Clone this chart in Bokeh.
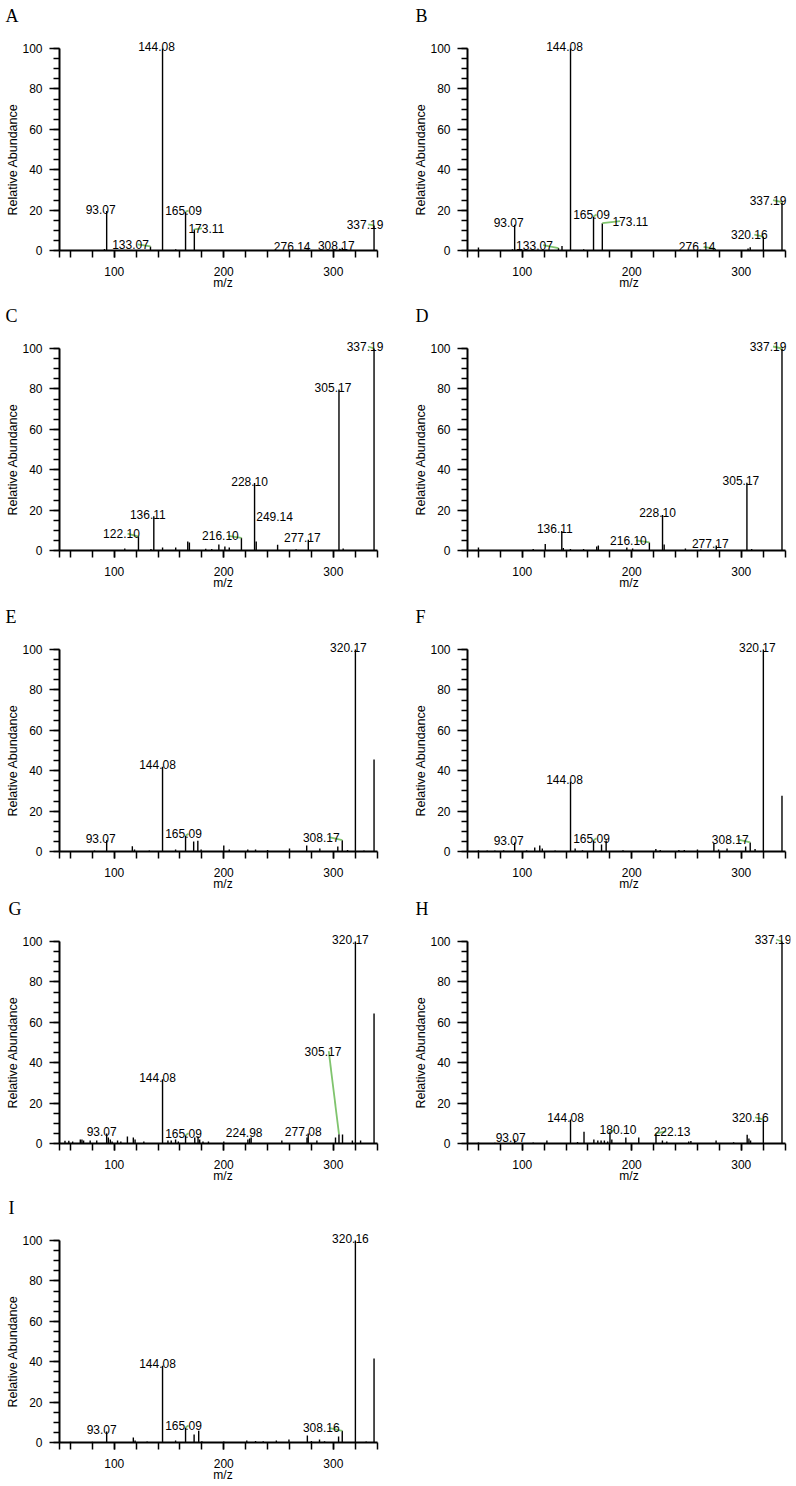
from bokeh.plotting import figure
from bokeh.layouts import gridplot
from bokeh.models import Range1d, FixedTicker, ColumnDataSource, Title
from bokeh.core.properties import value
from bokeh.embed import file_html
from bokeh.resources import INLINE

# ---------------- data (m/z, relative abundance %) ----------------
A_mz = [91.05, 93.07, 133.07, 144.08, 156.10, 165.09, 173.11, 247.30, 276.14, 306.20, 308.17, 337.19]
A_ab = [0.8, 19.5, 2.0, 100.0, 0.6, 19.2, 10.5, 0.6, 0.5, 0.8, 1.3, 12.4]
A_lab = [93.07, 133.07, 144.08, 165.09, 173.11, 276.14, 308.17, 337.19]

B_mz = [60.00, 91.05, 93.07, 133.07, 136.30, 144.08, 156.10, 165.09, 173.11, 276.14, 306.20, 308.17, 320.16, 337.19]
B_ab = [1.5, 0.6, 12.8, 1.2, 2.2, 100.0, 0.6, 16.8, 13.5, 0.8, 1.0, 1.6, 6.9, 23.9]
B_lab = [93.07, 133.07, 144.08, 165.09, 173.11, 276.14, 320.16, 337.19]

C_mz = [109.60, 122.10, 133.50, 136.11, 144.10, 156.10, 167.10, 168.60, 183.50, 189.00, 195.50, 201.00,
        205.00, 216.10, 228.10, 229.60, 249.14, 266.00, 277.17, 305.17, 309.00, 337.19]
C_ab = [1.0, 6.9, 0.8, 16.9, 1.5, 1.5, 4.5, 4.0, 0.9, 0.8, 3.0, 2.0,
        1.5, 6.3, 33.4, 4.5, 2.8, 0.6, 5.3, 79.7, 1.0, 100.0]
C_lab = [122.10, 136.11, 216.10, 228.10, 249.14, 277.17, 305.17, 337.19]

D_mz = [60.00, 110.00, 121.00, 136.11, 137.50, 144.00, 156.00, 168.00, 169.50, 195.50, 200.80,
        216.10, 228.10, 229.60, 249.00, 263.00, 277.17, 305.17, 309.50, 337.19]
D_ab = [1.5, 0.8, 3.2, 9.7, 1.2, 0.8, 0.8, 2.0, 2.5, 1.5, 1.0,
        4.0, 17.6, 3.0, 1.0, 0.6, 2.5, 33.6, 0.8, 100.0]
D_lab = [136.11, 216.10, 228.10, 277.17, 305.17, 337.19]

E_mz = [82.00, 93.07, 116.50, 118.50, 132.00, 144.08, 156.00, 165.09, 172.50, 176.30, 179.30, 200.00,
        205.00, 221.90, 229.00, 240.00, 260.00, 275.70, 287.70, 304.10, 308.17, 313.00, 320.17, 328.00, 337.19]
E_ab = [0.5, 5.6, 2.6, 1.0, 0.5, 42.0, 1.0, 7.8, 5.0, 5.3, 1.0, 3.0,
        1.0, 1.0, 1.0, 0.7, 1.5, 3.0, 1.5, 2.5, 5.6, 0.8, 100.0, 0.5, 45.6]
E_lab = [93.07, 144.08, 165.09, 308.17, 320.17]

F_mz = [60.00, 68.00, 75.00, 83.00, 93.07, 104.00, 111.40, 116.00, 118.30, 130.00, 144.08, 148.30,
        155.00, 165.09, 172.40, 176.60, 192.00, 222.00, 226.00, 243.00, 248.00, 260.00, 275.00,
        279.30, 287.00, 304.00, 308.17, 312.60, 320.17, 337.19]
F_ab = [0.6, 0.5, 0.5, 0.6, 4.5, 0.6, 2.0, 3.0, 1.5, 0.5, 34.5, 1.5,
        0.6, 5.6, 3.5, 5.5, 0.6, 1.2, 0.8, 0.8, 0.8, 1.0, 4.0,
        1.0, 1.5, 2.5, 4.5, 1.2, 100.0, 27.6]
F_lab = [93.07, 144.08, 165.09, 308.17, 320.17]

G_mz = [55.00, 58.50, 62.00, 69.00, 70.50, 72.00, 78.00, 84.00, 93.07, 94.60, 96.40, 98.00, 103.00,
        106.00, 112.00, 117.40, 119.00, 127.00, 144.08, 149.00, 152.00, 156.00, 158.50, 165.09,
        173.50, 176.50, 178.00, 181.00, 186.00, 200.00, 222.00, 223.60, 224.98, 253.00, 276.00,
        277.08, 285.00, 302.00, 305.17, 308.40, 317.40, 320.17, 324.90, 337.19]
G_ab = [1.3, 1.3, 1.0, 2.0, 2.0, 1.5, 1.5, 1.5, 4.9, 3.0, 2.0, 1.0, 1.5,
        1.0, 3.5, 3.0, 2.0, 1.0, 31.8, 1.5, 1.5, 2.0, 1.0, 4.1,
        3.0, 3.5, 2.0, 1.0, 1.0, 1.0, 2.0, 2.5, 3.0, 1.5, 3.0,
        5.0, 1.5, 3.0, 4.6, 4.5, 1.5, 100.0, 1.5, 64.3]
G_lab = [93.07, 144.08, 165.09, 224.98, 277.08, 305.17, 320.17]

H_mz = [60.00, 75.00, 93.07, 110.00, 122.50, 144.08, 150.50, 156.40, 165.40, 169.00, 172.00, 175.00,
        178.00, 180.10, 181.80, 194.60, 206.40, 222.13, 228.00, 232.00, 252.00, 254.00, 277.00,
        293.00, 305.40, 307.00, 308.50, 320.16, 337.19]
H_ab = [0.5, 0.4, 2.1, 0.5, 1.5, 11.9, 0.8, 5.8, 2.0, 1.5, 1.5, 1.5,
        1.0, 5.8, 2.0, 3.0, 3.0, 5.0, 1.5, 1.0, 1.0, 1.2, 1.5,
        0.6, 4.3, 2.5, 1.5, 11.9, 100.0]
H_lab = [93.07, 144.08, 180.10, 222.13, 320.16, 337.19]

I_mz = [60.00, 80.00, 93.07, 117.40, 119.00, 130.00, 144.08, 156.00, 165.09, 172.90, 177.10, 180.00,
        200.00, 221.00, 229.00, 236.00, 248.00, 259.50, 276.30, 280.00, 287.40, 292.00, 304.80,
        308.16, 320.16, 330.00, 337.19]
I_ab = [0.4, 0.4, 5.4, 2.5, 1.0, 0.5, 38.0, 1.0, 7.4, 4.0, 5.8, 0.6,
        0.5, 1.0, 0.7, 0.6, 1.0, 1.5, 3.5, 0.8, 1.5, 0.6, 3.0,
        5.8, 100.0, 0.5, 41.6]
I_lab = [93.07, 144.08, 165.09, 308.16, 320.16]

X_TICKS = [100, 200, 300]
X_MINOR = [50] + list(range(60, 341, 20))
Y_TICKS = [0, 20, 40, 60, 80, 100]
Y_MINOR = list(range(0, 101, 5))
X_TITLE = "m/z"
Y_TITLE = "Relative Abundance"

# ---------------- label placement (pixel offsets, layout only) ----------------
LAYOUT = {
    "A": dict(dx=[-6, -20, -6, -2, 12, -15, -6, -9], dy=[-2, -2, -2, -1, -1, -3, -2, -1], lead=[0, 1, 0, 1, 1, 0, 0, 1]),
    "B": dict(dx=[-6, -24, -6, -2, 28, -18, -14, -14], dy=[-2, -3, -2, -2, -2, -2, -2, -2], lead=[0, 1, 0, 1, 1, 1, 1, 1]),
    "C": dict(dx=[-17, -6, -21, -5, -3, -6, -6, -9], dy=[-3, -2, -2, -2, -28, -2, -2, -2], lead=[1, 0, 1, 0, 0, 0, 0, 1]),
    "D": dict(dx=[-7, -21, -5, -6, -6, -14], dy=[-2, -2, -2, -2, -2, -2], lead=[0, 1, 0, 0, 0, 1]),
    "E": dict(dx=[-6, -5, -2, -21, -7], dy=[-2, -2, -2, -3, -2], lead=[0, 0, 1, 1, 0]),
    "F": dict(dx=[-6, -6, -2, -20, -6], dy=[-2, -2, -2, -3, -2], lead=[0, 0, 1, 1, 0]),
    "G": dict(dx=[-5, -5, -2, -7, -5, -16, -5], dy=[-2, -2, -2, -5, -2, -83, -2], lead=[0, 0, 1, 0, 0, 1, 0]),
    "H": dict(dx=[-4, -5, 8, 16, -13, -9], dy=[-2, -2, -2, -2, -2, -2], lead=[0, 0, 1, 1, 1, 1]),
    "I": dict(dx=[-5, -5, -2, -21, -5], dy=[-2, -2, -2, -3, -2], lead=[0, 0, 1, 1, 0]),
}

KX = 1.112     # px per m/z unit
KY = 2.02      # px per % unit
FRAME_H = 214
SANS = "Liberation Sans"
SERIF = "Liberation Serif"
GREEN = "#80c46e"

# (figure height, top border, bottom border)
ROWS = [(300, 36, 50), (300, 36, 50), (295, 37, 44), (295, 34, 47), (296, 38, 44)]


def panel(letter, mz, ab, lab, width, left, right, row, letter_off):
    height, top, bottom = ROWS[row]
    frame_w = width - left - right
    x_end = 50 + frame_w / KX
    y_end = FRAME_H / KY
    p = figure(width=width, height=height, title=letter,
               x_range=Range1d(50, x_end), y_range=Range1d(0, y_end),
               min_border_left=left, min_border_right=right,
               min_border_top=top, min_border_bottom=bottom,
               output_backend="svg", toolbar_location=None)
    p.outline_line_color = None
    p.grid.visible = False
    p.background_fill_color = "white"
    p.border_fill_color = "white"

    # panel letter (figure title), pushed up by an empty spacer title
    spacer = Title(text=" ", text_font_size="1px", standoff=8, align="left")
    p.add_layout(spacer, "above")
    t = p.title
    t.text_font = SERIF
    t.text_font_size = "18px"
    t.text_font_style = "normal"
    t.text_color = "black"
    t.align = "left"
    t.offset = letter_off
    t.standoff = 0
    t.vertical_align = "bottom"

    xa = p.xaxis[0]
    xa.ticker = FixedTicker(ticks=X_TICKS, minor_ticks=X_MINOR)
    xa.bounds = (50, 340)
    xa.axis_line_width = 2
    xa.axis_line_color = "black"
    xa.major_tick_in = 0
    xa.major_tick_out = 7
    xa.minor_tick_in = 0
    xa.minor_tick_out = 7
    xa.major_tick_line_width = 1.5
    xa.minor_tick_line_width = 1.5
    xa.major_tick_line_color = "black"
    xa.minor_tick_line_color = "black"
    xa.major_label_text_font = SANS
    xa.major_label_text_font_size = "12px"
    xa.major_label_text_color = "black"
    xa.major_label_standoff = 9
    xa.axis_label = X_TITLE
    xa.axis_label_text_font = SANS
    xa.axis_label_text_font_size = "12px"
    xa.axis_label_text_font_style = "normal"
    xa.axis_label_text_color = "black"
    xa.axis_label_standoff = -3

    ya = p.yaxis[0]
    ya.ticker = FixedTicker(ticks=Y_TICKS, minor_ticks=Y_MINOR)
    ya.bounds = (0, 100)
    ya.axis_line_width = 2
    ya.axis_line_color = "black"
    ya.major_tick_in = 0
    ya.major_tick_out = 10
    ya.minor_tick_in = 0
    ya.minor_tick_out = 6
    ya.major_tick_line_width = 1.5
    ya.minor_tick_line_width = 1.5
    ya.major_tick_line_color = "black"
    ya.minor_tick_line_color = "black"
    ya.major_label_text_font = SANS
    ya.major_label_text_font_size = "12px"
    ya.major_label_text_color = "black"
    ya.major_label_standoff = 7

    # y axis title as a left-side title, shifted along the axis
    p.add_layout(Title(text=Y_TITLE, align="left", offset=35, standoff=0,
                       text_font=SANS, text_font_size="12.5px", text_font_style="normal",
                       text_color="black"), "left")

    # peaks
    src = ColumnDataSource(dict(mz=mz, ab=ab))
    p.segment(x0="mz", y0=0, x1="mz", y1="ab", source=src, line_color="black", line_width=1.4)

    # labels + leader lines
    lay = LAYOUT[letter]
    h_of = dict(zip(mz, ab))
    lx0, ly0, lx1, ly1 = [], [], [], []
    for m, ddx, ddy, ld in zip(lab, lay["dx"], lay["dy"], lay["lead"]):
        h = h_of[m]
        if ld:
            sx = 0.65 * ddx
            if abs(sx) < 3:
                sx = 3.0 if ddx >= -3 else -3.0
            lx0.append(m + sx / KX)
            ly0.append(h - ddy / KY)
            lx1.append(m)
            ly1.append(h)
    if lx0:
        p.segment(x0="x0", y0="y0", x1="x1", y1="y1",
                  source=ColumnDataSource(dict(x0=lx0, y0=ly0, x1=lx1, y1=ly1)),
                  line_color=GREEN, line_width=1.8)
    tsrc = ColumnDataSource(dict(x=lab, y=[h_of[m] for m in lab],
                                 text=[f"{m:.2f}" for m in lab],
                                 xo=lay["dx"], yo=lay["dy"]))
    p.text(x="x", y="y", text="text", x_offset="xo", y_offset="yo", source=tsrc,
           text_align="center", text_baseline="alphabetic",
           text_font=value(SANS), text_font_size=value("12px"), text_color="black")
    return p


pa = panel("A", A_mz, A_ab, A_lab, 400, 59, 9, 0, -54)
pb = panel("B", B_mz, B_ab, B_lab, 396, 67, 1, 0, -52)
pc = panel("C", C_mz, C_ab, C_lab, 400, 59, 9, 1, -54)
pd = panel("D", D_mz, D_ab, D_lab, 396, 67, 1, 1, -52)
pe = panel("E", E_mz, E_ab, E_lab, 400, 59, 9, 2, -54)
pf = panel("F", F_mz, F_ab, F_lab, 396, 67, 1, 2, -52)
pg = panel("G", G_mz, G_ab, G_lab, 400, 54, 14, 3, -51)
ph = panel("H", H_mz, H_ab, H_lab, 396, 62, 6, 3, -52)
pi = panel("I", I_mz, I_ab, I_lab, 400, 54, 14, 4, -51)

grid = gridplot([[pa, pb], [pc, pd], [pe, pf], [pg, ph], [pi, None]], toolbar_location=None)

open("out.html", "w").write(file_html(grid, INLINE))
